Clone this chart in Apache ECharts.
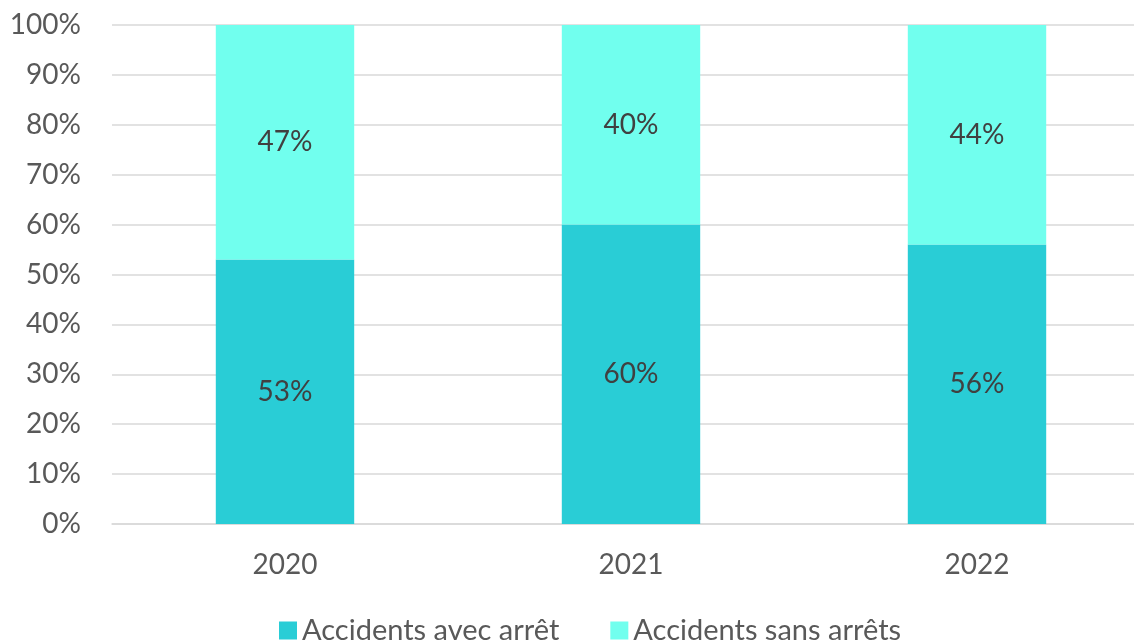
<!DOCTYPE html>
<html>
<head>
<meta charset="utf-8">
<script src="https://cdn.jsdelivr.net/npm/echarts@6/dist/echarts.min.js"></script>
<style>
  html, body { margin: 0; padding: 0; background: #fff; overflow: hidden; }
  #chart { width: 1150px; height: 640px; }
</style>
</head>
<body>
<div id="chart"></div>
<script>
// données
var years = ['2020', '2021', '2022'];
var avecArret = [53, 60, 56];
var sansArret = [47, 40, 44];
var seriesNames = ['Accidents avec arrêt', 'Accidents sans arrêts'];

// le graphique d'origine est rogné à droite : zone un peu plus large que la fenêtre
var chart = echarts.init(document.getElementById('chart'));
var font = 'Lato, "Open Sans", sans-serif';

var labelStyle = {
  show: true,
  position: 'inside',
  formatter: '{c}%',
  color: '#404040',
  fontSize: 28,
  fontFamily: font
};

var option = {
  animation: false,
  grid: { left: 112, top: 25, right: 0, height: 499 },
  legend: {
    data: seriesNames,
    left: 274,
    top: 611,
    itemWidth: 18,
    itemHeight: 18,
    itemGap: 51,
    icon: 'rect',
    textStyle: { color: '#595959', fontSize: 29, fontFamily: font }
  },
  xAxis: {
    type: 'category',
    data: years,
    axisLine: { show: true, lineStyle: { color: '#d9d9d9', width: 1.5 } },
    axisTick: { show: false },
    axisLabel: { color: '#595959', fontSize: 28, fontFamily: font, margin: 27 }
  },
  yAxis: {
    type: 'value',
    min: 0,
    max: 100,
    interval: 10,
    axisLine: { show: false },
    axisTick: { show: false },
    splitLine: { lineStyle: { color: '#d9d9d9', width: 1.5 } },
    axisLabel: { formatter: '{value}%', color: '#595959', fontSize: 28, fontFamily: font, margin: 31 }
  },
  series: [
    {
      name: seriesNames[0],
      type: 'bar',
      stack: 'total',
      data: avecArret,
      barCategoryGap: '60%',
      itemStyle: { color: '#29cdd6' },
      label: labelStyle
    },
    {
      name: seriesNames[1],
      type: 'bar',
      stack: 'total',
      data: sansArret,
      barCategoryGap: '60%',
      itemStyle: { color: '#71ffee' },
      label: labelStyle
    }
  ]
};

chart.setOption(option);
</script>
</body>
</html>
